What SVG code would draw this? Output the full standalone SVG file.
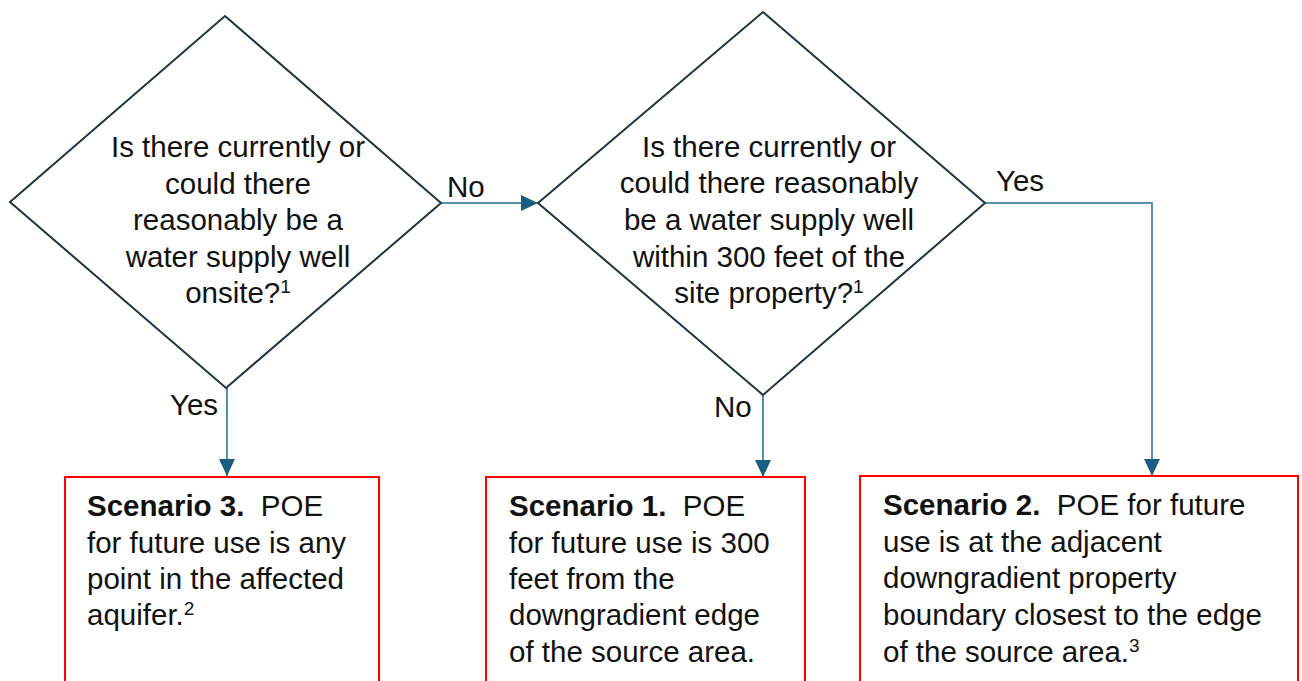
<svg xmlns="http://www.w3.org/2000/svg" width="1302" height="681" viewBox="0 0 1302 681">
  <style>
    .decision { fill: #ffffff; stroke: #1d3441; stroke-width: 2; stroke-linejoin: miter; }
    .outcome { fill: #ffffff; stroke: #ff0000; stroke-width: 2; }
    .txt { font-family: "Liberation Sans", Arial, sans-serif; font-size: 29.5px; fill: #111111; }
    .mid { text-anchor: middle; }
    .b { font-weight: bold; }
    .sup { font-size: 19px; }
    .conn { fill: none; stroke: #5a91ad; stroke-width: 2; marker-end: url(#arrow); }
  </style>
  <defs>
    <marker id="arrow" viewBox="0 0 17 16" refX="17" refY="8" markerWidth="17" markerHeight="16" markerUnits="userSpaceOnUse" orient="auto">
      <path d="M0,0 L17,8 L0,16 Z" fill="#1b5e80"/>
    </marker>
  </defs>
  <rect width="1302" height="681" fill="#ffffff"/>

  <!-- connectors -->
  <g id="connectors">
    <path class="conn" d="M227,388 L227,476"/>
    <path class="conn" d="M441,203 L538,203"/>
    <path class="conn" d="M763,395 L763,477"/>
    <path class="conn" d="M985,203 L1152,203 L1152,476"/>
    <text class="txt" x="447" y="197">No</text>
    <text class="txt" x="170" y="415">Yes</text>
    <text class="txt" x="714" y="417">No</text>
    <text class="txt" x="996" y="191">Yes</text>
  </g>

  <!-- first decision: onsite well -->
  <g id="decision-onsite">
    <polygon class="decision" points="225,16 441,203 226,388 10,202"/>
    <text class="txt mid" x="238" y="157">Is there currently or</text>
    <text class="txt mid" x="238" y="194">could there</text>
    <text class="txt mid" x="238" y="230">reasonably be a</text>
    <text class="txt mid" x="238" y="267">water supply well</text>
    <text class="txt mid" x="238" y="303">onsite?<tspan class="sup" dy="-10">1</tspan></text>
  </g>

  <!-- second decision: well within 300 feet -->
  <g id="decision-300ft">
    <polygon class="decision" points="763,12 985,203 763,395 538,203"/>
    <text class="txt mid" x="769" y="157">Is there currently or</text>
    <text class="txt mid" x="769" y="193">could there reasonably</text>
    <text class="txt mid" x="769" y="230">be a water supply well</text>
    <text class="txt mid" x="769" y="267">within 300 feet of the</text>
    <text class="txt mid" x="769" y="303">site property?<tspan class="sup" dy="-10">1</tspan></text>
  </g>

  <!-- outcome boxes -->
  <g id="scenario-3">
    <rect class="outcome" x="65" y="477" width="314" height="205"/>
    <text class="txt" x="87" y="516" xml:space="preserve"><tspan class="b">Scenario 3.</tspan>  POE</text>
    <text class="txt" x="87" y="553">for future use is any</text>
    <text class="txt" x="87" y="589">point in the affected</text>
    <text class="txt" x="87" y="625">aquifer.<tspan class="sup" dy="-10">2</tspan></text>
  </g>

  <g id="scenario-1">
    <rect class="outcome" x="486" y="477" width="319" height="205"/>
    <text class="txt" x="509" y="516" xml:space="preserve"><tspan class="b">Scenario 1.</tspan>  POE</text>
    <text class="txt" x="509" y="553">for future use is 300</text>
    <text class="txt" x="509" y="589">feet from the</text>
    <text class="txt" x="509" y="625">downgradient edge</text>
    <text class="txt" x="509" y="662">of the source area.</text>
  </g>

  <g id="scenario-2">
    <rect class="outcome" x="860" y="476" width="438" height="206"/>
    <text class="txt" x="883" y="515" xml:space="preserve"><tspan class="b">Scenario 2.</tspan>  POE for future</text>
    <text class="txt" x="883" y="552">use is at the adjacent</text>
    <text class="txt" x="883" y="588">downgradient property</text>
    <text class="txt" x="883" y="625">boundary closest to the edge</text>
    <text class="txt" x="883" y="662">of the source area.<tspan class="sup" dy="-10">3</tspan></text>
  </g>
</svg>
